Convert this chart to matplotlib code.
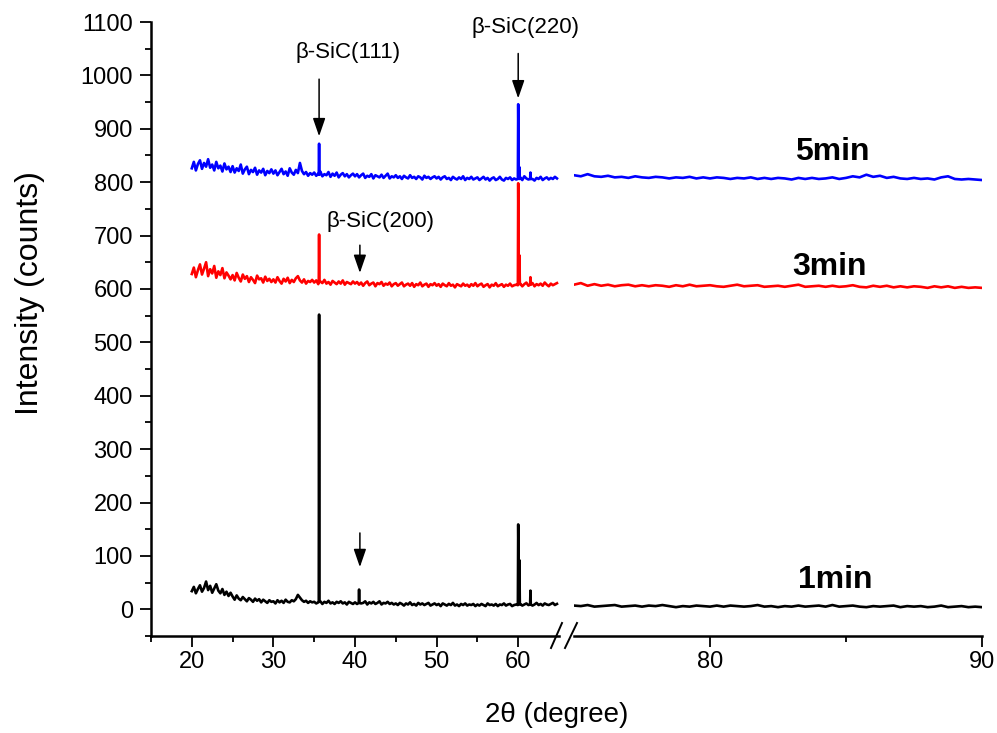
import numpy as np
import matplotlib
matplotlib.use("Agg")
import matplotlib.pyplot as plt
from matplotlib.ticker import FixedLocator
from matplotlib.lines import Line2D
from matplotlib import font_manager

plt.rcParams["font.family"] = ["Liberation Sans", "DejaVu Sans"]

# ---------------------------------------------------------------- data
# 2-theta grid of the scan: low-angle block and high-angle block
theta_left = 20.0 + 0.25 * np.arange(180)      # 20.00 ... 64.75
theta_right = 75.0 + 0.25 * np.arange(61)      # 75.00 ... 90.00

# 1 min sample (counts)
base_1min_left = [
    34, 42, 30, 38, 45, 33, 40, 52, 36, 44, 31, 39, 47, 35, 30, 38, 27, 33, 25, 31,
    24, 18, 26, 20, 17, 23, 19, 15, 21, 18, 14, 20, 16, 19, 13, 18, 15, 12, 17, 14,
    15, 11, 17, 13, 16, 12, 18, 14, 13, 17, 15, 19, 27, 22, 17, 14, 16, 12, 15, 13,
    14, 11, 13, 15, 10, 14, 12, 16, 11, 13, 10, 14, 12, 15, 11, 13, 9, 14, 12, 10,
    13, 10, 14, 11, 12, 15, 9, 13, 11, 14, 10, 12, 15, 9, 12, 11, 14, 10, 12, 9,
    11, 8, 12, 10, 7, 11, 9, 13, 8, 10, 7, 12, 9, 11, 8, 10, 12, 7, 9, 11,
    8, 10, 6, 11, 9, 7, 10, 8, 12, 7, 9, 6, 10, 8, 11, 7, 9, 8, 10, 6,
    9, 7, 10, 8, 6, 11, 8, 9, 7, 10, 6, 9, 8, 11, 7, 9, 10, 6, 8, 9,
    8, 10, 7, 9, 11, 8, 10, 7, 9, 12, 8, 10, 7, 11, 9, 8, 10, 12, 8, 10,
]
base_1min_right = [
    7, 6, 8, 5, 6, 7, 8, 5, 6, 7, 5, 7, 6, 8, 6, 4, 6, 5, 7, 6,
    5, 7, 5, 7, 6, 5, 6, 8, 5, 6, 4, 6, 5, 7, 5, 6, 7, 5, 8, 5,
    6, 7, 5, 4, 6, 5, 6, 7, 4, 6, 5, 6, 4, 5, 7, 4, 5, 6, 4, 5, 4,
]
peaks_1min = [
    ([35.56, 35.60, 35.64], [15, 552, 14]),
    ([40.46, 40.50, 40.54], [12, 37, 12]),
    ([59.96, 60.00, 60.07, 60.15, 60.20], [8, 159, 40, 92, 9]),
    ([61.46, 61.50, 61.54], [9, 35, 9]),
]

# 3 min sample (counts)
base_3min_left = [
    628, 640, 622, 635, 646, 627, 638, 650, 624, 637, 629, 643, 621, 633, 626, 639, 620, 631, 625, 618,
    626, 616, 630, 621, 614, 627, 619, 624, 613, 622, 617, 611, 625, 618, 620, 612, 623, 615, 619, 613,
    618, 612, 622, 615, 610, 619, 614, 621, 611, 617, 613, 620, 624, 616, 612, 618, 610, 615, 613, 617,
    612, 616, 609, 614, 611, 617, 610, 613, 608, 615, 612, 609, 614, 610, 616, 608, 613, 611, 609, 614,
    610, 613, 608, 612, 606, 611, 614, 607, 610, 612, 605, 611, 609, 613, 606, 610, 608, 612, 605, 609,
    611, 606, 609, 612, 605, 608, 610, 606, 611, 604, 609, 607, 612, 605, 608, 610, 604, 609, 607, 611,
    606, 609, 604, 610, 607, 605, 611, 606, 608, 603, 609, 607, 605, 610, 606, 608, 604, 609, 606, 611,
    605, 608, 610, 604, 607, 609, 603, 608, 606, 611, 605, 607, 609, 604, 608, 606, 610, 605, 607, 608,
    607, 610, 605, 609, 612, 606, 608, 611, 605, 609, 607, 610, 606, 612, 608, 605, 610, 607, 609, 611,
]
base_3min_right = [
    608, 611, 606, 609, 606, 608, 605, 607, 608, 605, 607, 605, 607, 606, 604, 607, 605, 608, 605, 606,
    607, 605, 604, 606, 608, 605, 606, 607, 604, 605, 606, 604, 606, 608, 604, 605, 606, 604, 606, 604,
    605, 607, 604, 603, 606, 604, 606, 603, 605, 603, 605, 604, 602, 605, 603, 605, 602, 604, 602, 603, 602,
]
peaks_3min = [
    ([35.56, 35.60, 35.64], [614, 702, 613]),
    ([59.96, 60.00, 60.07, 60.15, 60.20], [607, 798, 630, 663, 609]),
    ([61.46, 61.50, 61.54], [608, 622, 608]),
]

# 5 min sample (counts)
base_5min_left = [
    826, 838, 822, 834, 841, 825, 836, 829, 843, 827, 833, 822, 838, 826, 831, 820, 835, 824, 829, 819,
    830, 818, 826, 821, 833, 816, 824, 829, 815, 823, 819, 827, 814, 822, 818, 825, 813, 821, 817, 824,
    816, 822, 813, 819, 825, 815, 820, 812, 826, 818, 814, 823, 817, 836, 821, 815, 819, 812, 817, 814,
    818, 812, 816, 820, 811, 815, 813, 819, 810, 816, 812, 818, 809, 814, 817, 811, 815, 809, 813, 816,
    811, 815, 809, 813, 816, 808, 812, 810, 815, 807, 813, 811, 809, 814, 808, 812, 816, 807, 811, 809,
    813, 808, 811, 806, 812, 809, 807, 813, 808, 810, 806, 811, 809, 805, 812, 808, 810, 806, 809, 811,
    807, 810, 805, 809, 811, 806, 808, 804, 810, 807, 805, 809, 806, 811, 804, 808, 806, 810, 805, 807,
    809, 804, 807, 810, 805, 808, 803, 807, 809, 804, 806, 810, 805, 803, 808, 806, 809, 804, 807, 805,
    806, 809, 804, 811, 807, 805, 809, 806, 803, 808, 806, 810, 804, 807, 809, 805, 808, 806, 810, 807,
]
base_5min_right = [
    813, 811, 815, 811, 810, 812, 809, 810, 808, 811, 809, 808, 810, 809, 807, 809, 808, 810, 807, 809,
    807, 809, 808, 806, 808, 807, 809, 806, 808, 806, 808, 807, 805, 808, 806, 808, 806, 807, 809, 806,
    808, 811, 809, 814, 810, 812, 808, 810, 807, 806, 808, 806, 807, 805, 809, 811, 806, 805, 806, 805, 804,
]
peaks_5min = [
    ([35.56, 35.60, 35.64], [815, 872, 814]),
    ([59.96, 60.00, 60.07, 60.15, 60.20], [806, 946, 815, 828, 806]),
    ([61.46, 61.50, 61.54], [806, 818, 806]),
]

series = [
    ("1min", "black", base_1min_left, base_1min_right, peaks_1min),
    ("3min", "red", base_3min_left, base_3min_right, peaks_3min),
    ("5min", "blue", base_5min_left, base_5min_right, peaks_5min),
]

# sample labels: (text, 2theta, intensity at baseline of text)
sample_labels = [("5min", 84.5, 841), ("3min", 84.4, 626), ("1min", 84.6, 40)]

# reflection labels: (text, x, y) and arrows (x, tail y, head y)
reflection_labels = [
    (r"β-SiC(111)", 39.15, 1032),
    (r"β-SiC(220)", 60.86, 1079),
    (r"β-SiC(200)", 43.1, 716),
]
arrows = [
    (35.6, 993, 886),
    (60.0, 1041, 957),
    (40.6, 682, 630),
    (40.6, 143, 79),
]


def merge_peaks(theta, base, peaks):
    """Insert the sharp reflection points into a baseline scan."""
    x = np.asarray(theta, dtype=float)
    y = np.asarray(base, dtype=float)
    keep = np.ones(len(x), dtype=bool)
    px_all, py_all = [], []
    for px, py in peaks:
        keep &= ~((x > min(px) - 1e-9) & (x < max(px) + 1e-9))
        px_all += list(px)
        py_all += list(py)
    xx = np.concatenate([x[keep], px_all])
    yy = np.concatenate([y[keep], py_all])
    order = np.argsort(xx, kind="stable")
    return xx[order], yy[order]


# ---------------------------------------------------------------- figure
W, H = 997, 733
fig = plt.figure(figsize=(W / 100, H / 100), dpi=100)


def px_rect(x0, x1, ytop, ybot):
    return [x0 / W, 1 - ybot / H, (x1 - x0) / W, (ybot - ytop) / H]


ax_l = fig.add_axes(px_rect(151, 559, 22, 636))
ax_r = fig.add_axes(px_rect(574, 982, 22, 636))

for name, color, bl, br, pk in series:
    xl, yl = merge_peaks(theta_left, bl, pk)
    ax_l.plot(xl, yl, color=color, lw=1.9, solid_joinstyle="round")
    ax_r.plot(theta_right, br, color=color, lw=1.9)

ylim = (-50, 1100)
ax_l.set_xlim(15, 65)
ax_r.set_xlim(75, 90)
for ax in (ax_l, ax_r):
    ax.set_ylim(*ylim)
    ax.spines["top"].set_visible(False)
    ax.spines["right"].set_visible(False)
    ax.spines["bottom"].set_linewidth(1.8)
    ax.spines["left"].set_linewidth(1.8)
    ax.patch.set_visible(False)
ax_r.spines["left"].set_visible(False)
ax_r.tick_params(axis="y", which="both", left=False, labelleft=False)

# tick layout
ax_l.yaxis.set_major_locator(FixedLocator(np.arange(0, 1101, 100)))
ax_l.yaxis.set_minor_locator(FixedLocator(np.arange(-50, 1100, 100)))
ax_l.xaxis.set_major_locator(FixedLocator([20, 30, 40, 50, 60]))
ax_l.xaxis.set_minor_locator(FixedLocator([15, 25, 35, 45, 55]))
ax_r.xaxis.set_major_locator(FixedLocator([80, 90]))
ax_r.xaxis.set_minor_locator(FixedLocator([85]))

# condensed face for the 2-theta tick numbers when available
try:
    font_manager.findfont("Liberation Sans Narrow", fallback_to_default=False)
    xtick_family = ["Liberation Sans Narrow", "Liberation Sans"]
    xtick_size = 19
except Exception:
    xtick_family = ["Liberation Sans"]
    xtick_size = 17

for ax in (ax_l, ax_r):
    ax.tick_params(which="major", direction="out", length=8, width=1.3)
    ax.tick_params(which="minor", direction="out", length=4.5, width=1.3)
    ax.tick_params(axis="x", which="major", pad=3)
    for lab in ax.get_xticklabels():
        lab.set_family(xtick_family)
        lab.set_fontsize(xtick_size)
ax_l.tick_params(axis="y", which="major", pad=5, labelsize=17)

# axis titles
fig.text(557 / W, 1 - 715 / H, "2θ (degree)", ha="center", va="center", fontsize=20)
fig.text(30 / W, 1 - 293 / H, "Intensity (counts)", ha="center", va="center",
         rotation=90, fontsize=23)

# axis break marks
for x0, x1 in ((551, 562), (565, 577)):
    fig.add_artist(Line2D([x0 / W, x1 / W], [1 - 648 / H, 1 - 623 / H],
                          transform=fig.transFigure, color="black", lw=1.4))

# sample labels
for text, x, y in sample_labels:
    ax_r.text(x, y, text, ha="center", va="baseline", fontsize=23, fontweight="bold")

# reflection labels and arrows
for text, x, y in reflection_labels:
    ax_l.text(x, y, text, ha="center", va="baseline", fontsize=16, clip_on=False)
for x, y0, y1 in arrows:
    ax_l.annotate("", xy=(x, y1), xytext=(x, y0),
                  arrowprops=dict(arrowstyle="-|>,head_length=1.1,head_width=0.38",
                                  mutation_scale=10, color="black", lw=1.1,
                                  shrinkA=0, shrinkB=0))

fig.savefig("out.png", dpi=100)
